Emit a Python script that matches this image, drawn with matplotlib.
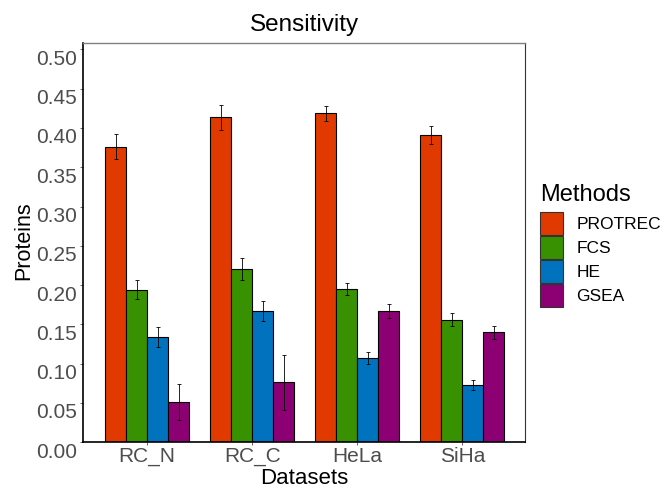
import numpy as np
import matplotlib.pyplot as plt
import matplotlib.transforms as mtransforms
from matplotlib.patches import Patch

plt.rcParams['font.family'] = ['Liberation Sans', 'DejaVu Sans']

datasets = ['RC_N', 'RC_C', 'HeLa', 'SiHa']
methods = ['PROTREC', 'FCS', 'HE', 'GSEA']
colors = ['#E03A00', '#389100', '#0072BE', '#8C0073']

# mean values per method, in dataset order
protrec = [0.376, 0.4135, 0.4186, 0.3914]
fcs = [0.194, 0.2205, 0.1954, 0.156]
he = [0.1336, 0.1667, 0.1073, 0.0733]
gsea = [0.0509, 0.0767, 0.1675, 0.1403]

# error bar half-widths
protrec_err = [0.016, 0.016, 0.0096, 0.0115]
fcs_err = [0.012, 0.014, 0.0075, 0.008]
he_err = [0.0125, 0.0127, 0.008, 0.0064]
gsea_err = [0.0227, 0.035, 0.009, 0.0083]

vals = [protrec, fcs, he, gsea]
errs = [protrec_err, fcs_err, he_err, gsea_err]

fig = plt.figure(figsize=(6.67, 4.88), dpi=100)
ax = fig.add_axes([0.125, 0.0937, 0.662, 0.818])

x = np.arange(1, len(datasets) + 1)
w = 0.2
for i, (m, v, e, c) in enumerate(zip(methods, vals, errs, colors)):
    pos = x + (i - 1.5) * w
    ax.bar(pos, v, width=w, color=c, edgecolor='black', linewidth=0.8, label=m)
    ax.errorbar(pos, v, yerr=e, fmt='none', ecolor='black', elinewidth=0.6,
                capsize=1.5, capthick=0.6)

ax.set_xlim(0.393, 4.595)
ax.set_ylim(0, 0.508)
ax.set_yticks(np.arange(0, 0.501, 0.05))
ax.set_yticklabels(['%.2f' % t for t in np.arange(0, 0.501, 0.05)])
ax.set_xticks(x)
ax.set_xticklabels(datasets)

ax.tick_params(axis='both', colors='#4d4d4d', labelsize=15, length=2.5, width=0.6, pad=2)
ax.tick_params(axis='x', pad=1)
# ylabels sit slightly below their ticks in the reference
off = mtransforms.ScaledTranslation(0, -8 / 100, fig.dpi_scale_trans)
for lab in ax.get_yticklabels():
    lab.set_transform(lab.get_transform() + off)

ax.spines['top'].set_linewidth(1.0)
ax.spines['top'].set_color('#808080')
ax.spines['right'].set_linewidth(0.8)
ax.spines['right'].set_color('#333333')
for s in ['left', 'bottom']:
    ax.spines[s].set_linewidth(1.2)
    ax.spines[s].set_color('black')

ax.set_title('Sensitivity', fontsize=17.5, pad=9)
ax.set_xlabel('Datasets', fontsize=16, labelpad=1)
ax.set_ylabel('Proteins', fontsize=15.5)
ax.yaxis.set_label_coords(-0.112, 0.505)

handles = [Patch(facecolor=c, edgecolor='#333333', linewidth=0.8) for c in colors]
leg = fig.legend(handles, methods, loc='upper left', bbox_to_anchor=(0.791, 0.648),
                 frameon=False, fontsize=12.5, title='Methods', title_fontsize=17,
                 handlelength=1.32, handleheight=1.66, labelspacing=0.06,
                 handletextpad=0.8, alignment='left', borderpad=0.2)
leg._legend_box.sep = 4.5  # more room between title and keys

fig.savefig('out.png', dpi=100)
